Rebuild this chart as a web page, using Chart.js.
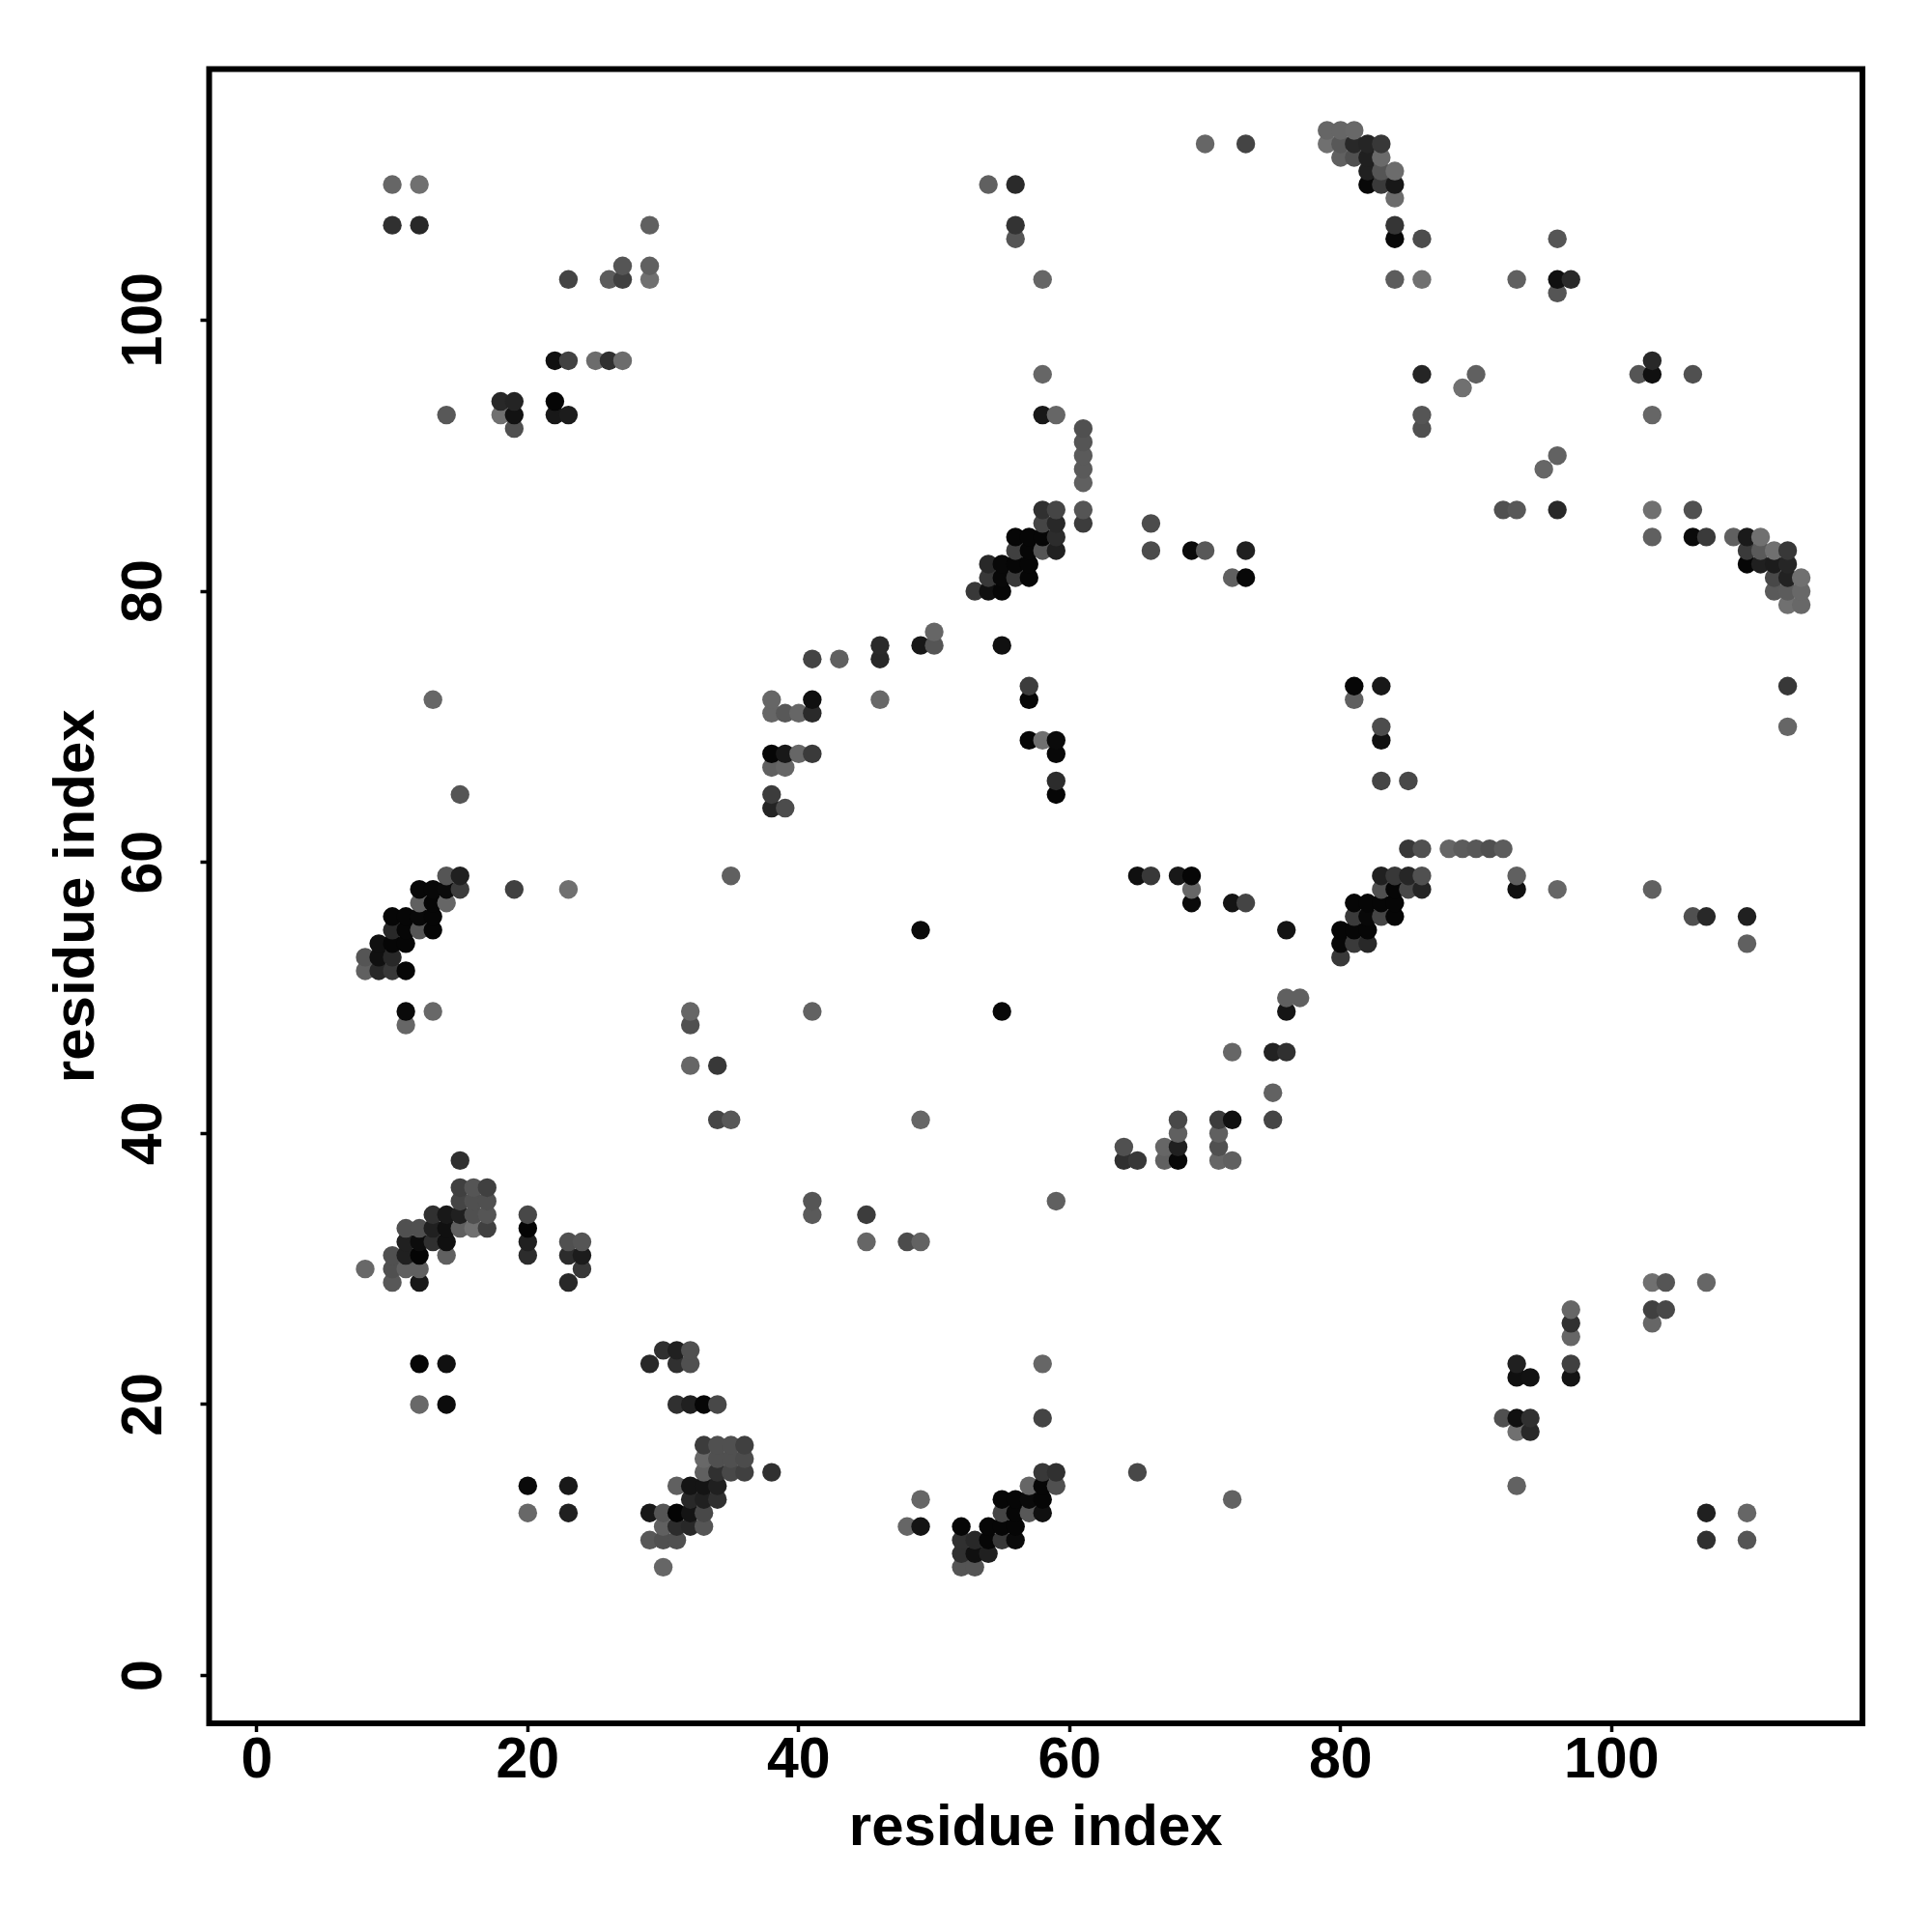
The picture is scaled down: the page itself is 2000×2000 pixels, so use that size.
<!DOCTYPE html>
<html><head><meta charset="utf-8">
<style>html,body{margin:0;padding:0;background:#fff}canvas{display:block}</style>
<script src="https://cdn.jsdelivr.net/npm/chart.js@4"></script>
</head><body><canvas id="c" width="2000" height="2000"></canvas>
<script>
const axisTitle = "residue index";
const tickValues = [0,20,40,60,80,100];
const residueX = [
79,80,81,
70,73,79,80,81,82,83,
80,81,82,83,
82,83,84,
10,12,54,56,82,83,84,
84,
10,12,29,56,84,
56,84,86,96,
27,29,
23,26,27,29,58,84,86,93,96,97,
96,
22,23,25,26,27,103,
58,86,90,102,103,106,
89,
18,19,22,
14,18,19,22,23,58,59,86,103,
19,61,86,
61,
61,96,
61,95,
61,
58,59,61,92,93,96,103,106,
58,59,61,66,
56,57,58,59,103,106,107,109,110,111,
56,57,58,59,66,69,70,73,110,111,112,113,
54,55,56,57,110,111,112,113,
54,55,56,57,72,73,112,113,114,
53,54,55,112,113,114,
113,114,
50,
46,49,50,55,
41,43,46,
57,81,83,113,
13,38,41,46,57,81,
38,39,40,41,
83,113,
57,58,59,83,
38,39,40,41,59,
38,39,
59,83,85,
15,38,59,
38,39,
85,86,88,89,90,91,92,
14,15,35,65,66,68,69,83,84,85,86,93,
12,13,14,15,19,23,69,83,84,85,86,93,96,103,
12,13,14,69,72,73,81,82,83,84,
10,11,12,13,81,82,83,84,106,107,110,
10,11,12,13,49,76,80,81,82,
9,10,11,80,81,82,110,
8,9,10,80,
8,9,10,11,
76,77,
11,13,32,41,55,76,
11,32,
72,75,76,
32,34,
75,
34,35,49,68,71,72,75,
68,71,
64,67,68,71,
15,64,65,67,68,71,72,
15,16,17,
15,16,17,41,59,
13,14,15,16,17,20,41,45,
11,12,13,14,15,16,17,20,
11,12,13,14,20,23,24,45,48,49,
10,11,12,14,20,23,24,
8,10,11,12,24,
10,12,23,103,104,107,
97,103,104,
97,103,
97,
30,31,32,
12,14,29,31,32,58,93,97,
93,94,97,
12,14,31,32,33,34,
58,92,93,94,
93,94,
33,34,35,36,
33,34,35,36,
33,34,35,36,38,58,59,65,
20,23,31,32,33,34,57,58,59,93,
32,33,34,49,55,56,57,58,72,
20,23,29,30,31,32,33,55,56,57,58,107,110,
30,31,32,33,48,49,52,54,55,56,
29,30,31,52,53,54,55,56,107,110,
52,53,54,
30,52,53
];
const residueY = [
114,114,114,
113,113,113,113,113,113,113,
112,112,112,112,
111,111,111,
110,110,110,110,110,110,110,
109,
107,107,107,107,107,
106,106,106,106,
104,104,
103,103,103,103,103,103,103,103,103,103,
102,
97,97,97,97,97,97,
96,96,96,96,96,96,
95,
94,94,94,
93,93,93,93,93,93,93,93,93,
92,92,92,
91,
90,90,
89,89,
88,
86,86,86,86,86,86,86,86,
85,85,85,85,
84,84,84,84,84,84,84,84,84,84,
83,83,83,83,83,83,83,83,83,83,83,83,
82,82,82,82,82,82,82,82,
81,81,81,81,81,81,81,81,81,
80,80,80,80,80,80,
79,79,
77,
76,76,76,76,
75,75,75,
73,73,73,73,
72,72,72,72,72,72,
71,71,71,71,
70,70,
69,69,69,69,
68,68,68,68,68,
67,67,
66,66,66,
65,65,65,
64,64,
61,61,61,61,61,61,61,
59,59,59,59,59,59,59,59,59,59,59,59,
58,58,58,58,58,58,58,58,58,58,58,58,58,58,
57,57,57,57,57,57,57,57,57,57,
56,56,56,56,56,56,56,56,56,56,56,
55,55,55,55,55,55,55,55,55,
54,54,54,54,54,54,54,
53,53,53,53,
52,52,52,52,
50,50,
49,49,49,49,49,49,
48,48,
46,46,46,
45,45,
43,
41,41,41,41,41,41,41,
40,40,
39,39,39,39,
38,38,38,38,38,38,38,
36,36,36,
35,35,35,35,35,
34,34,34,34,34,34,34,34,
33,33,33,33,33,33,33,33,
32,32,32,32,32,32,32,32,32,32,
31,31,31,31,31,31,31,
30,30,30,30,30,
29,29,29,29,29,29,
27,27,27,
26,26,
25,
24,24,24,
23,23,23,23,23,23,23,23,
22,22,22,
20,20,20,20,20,20,
19,19,19,19,
18,18,
17,17,17,17,
16,16,16,16,
15,15,15,15,15,15,15,15,
14,14,14,14,14,14,14,14,14,14,
13,13,13,13,13,13,13,13,13,
12,12,12,12,12,12,12,12,12,12,12,12,12,
11,11,11,11,11,11,11,11,11,11,
10,10,10,10,10,10,10,10,10,10,
9,9,9,
8,8,8
];
const grayLevel = [
0x66,0x66,0x68,
0x66,0x44,0x70,0x58,0x28,0x25,0x38,
0x60,0x50,0x20,0x6a,
0x20,0x55,0x6c,
0x66,0x70,0x60,0x2a,0x08,0x3a,0x18,
0x6c,
0x30,0x28,0x60,0x33,0x35,
0x55,0x08,0x4c,0x55,
0x55,0x60,
0x44,0x5c,0x40,0x70,0x66,0x5c,0x70,0x60,0x10,0x2a,
0x55,
0x10,0x42,0x6c,0x30,0x6c,0x28,
0x66,0x25,0x60,0x55,0x10,0x50,
0x70,
0x28,0x24,0x05,
0x58,0x70,0x12,0x18,0x1c,0x18,0x66,0x55,0x66,
0x50,0x50,0x50,
0x55,
0x5a,0x62,
0x5a,0x66,
0x60,
0x30,0x45,0x55,0x50,0x58,0x28,0x70,0x50,
0x45,0x28,0x3c,0x4c,
0x06,0x06,0x06,0x2c,0x60,0x0a,0x3a,0x60,0x1a,0x70,
0x40,0x06,0x55,0x20,0x4c,0x0a,0x58,0x20,0x3a,0x5a,0x70,0x38,
0x28,0x08,0x06,0x06,0x06,0x20,0x1c,0x26,
0x38,0x08,0x38,0x06,0x60,0x08,0x48,0x22,0x70,
0x38,0x10,0x06,0x5a,0x5c,0x68,
0x70,0x68,
0x66,
0x2a,0x18,0x55,0x10,
0x44,0x60,0x28,
0x3c,0x06,0x18,0x38,
0x66,0x66,0x10,0x68,0x06,0x60,
0x66,0x58,0x66,0x2a,
0x4c,0x66,
0x06,0x70,0x0a,0x10,
0x06,0x18,0x66,0x3a,0x08,
0x60,0x66,
0x2c,0x45,0x48,
0x55,0x3c,0x06,
0x24,0x4c,
0x38,0x50,0x66,0x5c,0x58,0x50,0x5c,
0x55,0x20,0x60,0x10,0x38,0x18,0x06,0x20,0x38,0x26,0x50,0x60,
0x08,0x08,0x0a,0x3c,0x40,0x70,0x66,0x50,0x06,0x48,0x24,0x10,0x66,0x60,
0x60,0x06,0x66,0x0a,0x14,0x44,0x06,0x06,0x06,0x06,
0x06,0x06,0x08,0x06,0x3a,0x08,0x45,0x06,0x50,0x28,0x20,
0x28,0x06,0x55,0x06,0x0a,0x14,0x06,0x06,0x06,
0x10,0x06,0x06,0x08,0x3a,0x28,0x60,
0x55,0x10,0x28,0x38,
0x60,0x28,0x38,0x06,
0x60,0x60,
0x0a,0x68,0x66,0x62,0x08,0x15,
0x66,0x50,
0x66,0x22,0x30,
0x66,0x38,
0x62,
0x45,0x58,0x66,0x48,0x3c,0x10,0x45,
0x60,0x60,
0x50,0x66,0x20,0x50,
0x30,0x30,0x38,0x60,0x08,0x66,0x60,
0x40,0x55,0x40,
0x45,0x50,0x50,0x55,0x60,
0x30,0x18,0x20,0x50,0x55,0x48,0x5a,0x3c,
0x50,0x50,0x20,0x10,0x60,0x70,0x40,0x04,
0x20,0x0c,0x30,0x10,0x20,0x50,0x55,0x66,0x4c,0x62,
0x50,0x20,0x04,0x60,0x2c,0x2c,0x1c,
0x68,0x50,0x60,0x60,0x38,
0x58,0x18,0x28,0x70,0x55,0x66,
0x66,0x40,0x48,
0x30,0x66,
0x66,
0x30,0x20,0x50,
0x06,0x10,0x28,0x30,0x50,0x66,0x20,0x40,
0x10,0x12,0x14,
0x68,0x0c,0x30,0x20,0x06,0x48,
0x44,0x50,0x10,0x30,
0x70,0x28,
0x3c,0x50,0x50,0x40,
0x68,0x50,0x50,0x4c,
0x60,0x30,0x48,0x40,0x30,0x38,0x30,0x48,
0x0a,0x18,0x60,0x14,0x14,0x20,0x66,0x06,0x50,0x62,
0x28,0x20,0x30,0x66,0x06,0x06,0x0a,0x06,0x62,
0x68,0x20,0x18,0x55,0x04,0x14,0x48,0x45,0x06,0x58,0x10,0x20,0x66,
0x60,0x2c,0x28,0x55,0x66,0x14,0x06,0x06,0x06,0x06,
0x58,0x50,0x50,0x30,0x28,0x06,0x38,0x0a,0x30,0x55,
0x30,0x10,0x20,
0x66,0x55,0x55
];

const order = residueX.map((_, i) => i).sort((a, b) => residueX[a] - residueX[b] || residueY[a] - residueY[b]);
const points = order.map(i => ({x: residueX[i], y: residueY[i]}));
const colors = order.map(i => `rgb(${grayLevel[i]},${grayLevel[i]},${grayLevel[i]})`);
const TICK_FONT = {family: '"Liberation Sans", Arial, sans-serif', weight: 'bold', size: 59};
const TITLE_FONT = {family: '"Liberation Sans", Arial, sans-serif', weight: 'bold', size: 60};

const frame = {
  id: 'frame',
  afterDraw(chart) {
    const {ctx, chartArea: a} = chart;
    ctx.save();
    ctx.strokeStyle = '#000';
    ctx.lineWidth = 6;
    ctx.lineJoin = 'miter';
    ctx.strokeRect(a.left, a.top, a.right - a.left, a.bottom - a.top);
    ctx.restore();
  }
};
const setTicks = s => { s.ticks = tickValues.map(v => ({value: v, label: String(v)})); };

new Chart(document.getElementById('c'), {
  type: 'scatter',
  plugins: [frame, {id: 'white', beforeDraw(c){ c.ctx.save(); c.ctx.fillStyle='#fff'; c.ctx.fillRect(0,0,2000,2000); c.ctx.restore(); }}],
  data: {datasets: [{data: points, pointBackgroundColor: colors, pointBorderWidth: 0, pointRadius: 9.7, showLine: false}]},
  options: {
    responsive: false, animation: false, devicePixelRatio: 1,
    layout: {padding: {left: 0, top: 71.5, right: 72, bottom: 0}},
    plugins: {legend: {display: false}, tooltip: {enabled: false}},
    scales: {
      x: {
        type: 'linear', position: 'bottom', min: -3.52, max: 118.52,
        afterBuildTicks: setTicks,
        afterFit(s){ s.height = 216; },
        grid: {drawOnChartArea: false, drawTicks: true, tickLength: 9, tickWidth: 3.5, tickColor: '#000'},
        border: {display: false},
        ticks: {color: '#000', font: TICK_FONT, padding: -5, autoSkip: false, maxRotation: 0, minRotation: 0, callback: v => String(v)},
        title: {display: true, text: axisTitle, color: '#000', font: TITLE_FONT, padding: {top: 0, bottom: 70.5}}
      },
      y: {
        type: 'linear', position: 'left', min: -3.52, max: 118.52,
        afterBuildTicks: setTicks,
        afterFit(s){ s.width = 216.5; },
        grid: {drawOnChartArea: false, drawTicks: true, tickLength: 9, tickWidth: 3.5, tickColor: '#000'},
        border: {display: false},
        ticks: {color: '#000', font: TICK_FONT, padding: 7.6, autoSkip: false, minRotation: 90, maxRotation: 90, crossAlign: 'center', callback: v => String(v)},
        title: {display: true, text: axisTitle, color: '#000', font: TITLE_FONT, padding: {top: 44, bottom: 0}}
      }
    }
  }
});
</script></body></html>
